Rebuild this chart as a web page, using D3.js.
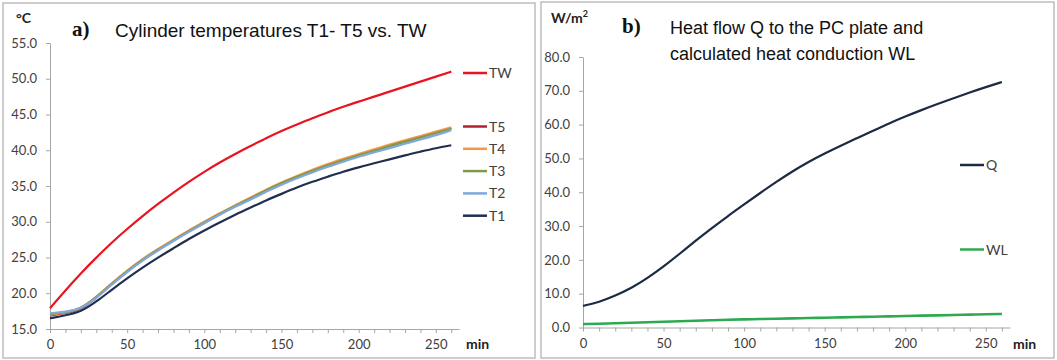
<!DOCTYPE html>
<html><head><meta charset="utf-8">
<script src="https://cdn.jsdelivr.net/npm/d3@7"></script>
<style>
html,body{margin:0;padding:0;background:#fff;}
svg{display:block;}
text{font-family:Lato,"Open Sans",sans-serif;}
</style></head>
<body><svg id="c" width="1057" height="360"></svg>
<script>
// ---- data ----
const minutes = [0,10,20,30,40,50,60,70,80,90,100,110,120,130,140,150,160,170,180,190,200,210,220,230,240,250,260];
const TW = [17.9,20.4,22.8,25.0,27.1,29.0,30.8,32.5,34.1,35.6,37.0,38.3,39.5,40.6,41.7,42.7,43.6,44.5,45.3,46.1,46.8,47.5,48.2,48.9,49.6,50.3,51.0];
const T5 = [16.9,17.2,17.7,19.4,21.3,23.1,24.7,26.1,27.4,28.7,29.9,31.1,32.2,33.3,34.4,35.4,36.3,37.1,37.9,38.6,39.3,39.9,40.6,41.2,41.8,42.5,43.1];
const T4 = [17.0,17.3,17.8,19.5,21.4,23.2,24.8,26.2,27.5,28.8,30.0,31.2,32.3,33.4,34.5,35.5,36.4,37.3,38.1,38.8,39.5,40.1,40.8,41.4,42.0,42.6,43.2];
const T3 = [17.1,17.3,17.8,19.4,21.3,23.1,24.7,26.1,27.4,28.7,29.9,31.1,32.2,33.3,34.4,35.4,36.3,37.1,37.9,38.6,39.3,39.9,40.6,41.2,41.8,42.4,43.0];
const T2 = [17.2,17.4,17.8,19.3,21.2,23.0,24.6,26.0,27.3,28.6,29.8,31.0,32.1,33.1,34.2,35.2,36.1,36.9,37.7,38.4,39.1,39.7,40.3,40.9,41.5,42.1,42.8];
const T1 = [16.5,16.9,17.4,18.8,20.5,22.1,23.6,25.0,26.3,27.6,28.8,29.9,31.0,32.0,33.0,33.9,34.8,35.6,36.3,37.0,37.6,38.2,38.7,39.3,39.8,40.3,40.7];
const Q  = [6.4,7.5,9.4,11.6,14.6,18.0,21.8,25.7,29.4,33.0,36.4,39.8,43.1,46.2,49.0,51.5,53.8,56.0,58.2,60.4,62.4,64.3,66.1,67.8,69.5,71.1,72.6];
const WL = [1.0,1.1,1.25,1.4,1.55,1.7,1.85,2.0,2.15,2.3,2.4,2.5,2.6,2.7,2.8,2.9,3.0,3.1,3.2,3.3,3.4,3.5,3.6,3.7,3.8,3.9,4.0];
const xTicks = [0,10,20,30,40,50,60,70,80,90,100,110,120,130,140,150,160,170,180,190,200,210,220,230,240,250,260];
const yTicksA = [15,20,25,30,35,40,45,50,55];
const yTicksB = [0,10,20,30,40,50,60,70,80];
const seriesA = [
  {name:"T5", values:T5, color:"#B2222B", w:2.2},
  {name:"T4", values:T4, color:"#F79646", w:2.2},
  {name:"T3", values:T3, color:"#7F9A48", w:2.2},
  {name:"T2", values:T2, color:"#7FA8DC", w:2.2},
  {name:"T1", values:T1, color:"#1F2F4F", w:2.2},
  {name:"TW", values:TW, color:"#E8141F", w:2.2}
];
const legendA = ["TW","T5","T4","T3","T2","T1"];
const seriesB = [
  {name:"Q", values:Q, color:"#1C2A44", w:2.2},
  {name:"WL", values:WL, color:"#2DAA4F", w:2.6}
];

const svg = d3.select("#c");
const axisCol = "#A6A6A6", txtCol = "#404040";

function panel(cfg){
  const g = svg.append("g");
  g.append("rect").attr("x",cfg.box[0]).attr("y",cfg.box[1]).attr("width",cfg.box[2]).attr("height",cfg.box[3])
    .attr("fill","#fff").attr("stroke","#BDBDBD").attr("stroke-width",1.5);
  const x = d3.scaleLinear().domain([0,265]).range(cfg.xr);
  const y = d3.scaleLinear().domain(cfg.yd).range(cfg.yr);
  const ya = g.append("g").attr("transform",`translate(${cfg.xr[0]},0)`)
    .call(d3.axisLeft(y).tickValues(cfg.yTicks).tickFormat(d3.format(".1f")).tickSize(4).tickSizeOuter(0).tickPadding(9));
  ya.select(".domain").attr("stroke",axisCol);
  ya.selectAll(".tick line").attr("stroke",axisCol);
  ya.selectAll(".tick text").attr("fill",txtCol).style("font-size","13px").style("font-family","Lato");
  const xa = g.append("g").attr("transform",`translate(0,${cfg.yr[0]})`)
    .call(d3.axisBottom(x).tickValues(xTicks).tickFormat(d=> d%50===0 ? d : "").tickSize(4).tickSizeOuter(0).tickPadding(7));
  xa.select(".domain").attr("stroke",axisCol);
  xa.selectAll(".tick line").attr("stroke",axisCol);
  xa.selectAll(".tick text").attr("fill",txtCol).style("font-size","13px").style("font-family","Lato");
  const line = d3.line().x((d,i)=>x(minutes[i])).y(d=>y(d)).curve(d3.curveBasis);
  cfg.series.forEach(s=>{
    g.append("path").attr("d",line(s.values)).attr("fill","none").attr("stroke",s.color).attr("stroke-width",s.w).attr("stroke-linejoin","round");
  });
  cfg.legend.forEach(l=>{
    const s = cfg.series.find(d=>d.name===l.name);
    g.append("line").attr("x1",l.x).attr("x2",l.x+24).attr("y1",l.y).attr("y2",l.y).attr("stroke",s.color).attr("stroke-width",2.5);
    g.append("text").attr("x",l.x+26).attr("y",l.y+5).attr("fill",txtCol).style("font-size","14px").text(l.name);
  });
  g.append("text").attr("x",cfg.unit[0]).attr("y",cfg.unit[1]).attr("fill","#222").style("font-size","14px").style("font-weight","bold").html(cfg.unitText);
  g.append("text").attr("x",cfg.minX).attr("y",349).attr("fill","#222").style("font-size","14px").style("font-weight","bold").text("min");
  return g;
}

const gA = panel({
  box:[3,3,532,355], xr:[50,459], yd:[15,55], yr:[329,43], yTicks:yTicksA, series:seriesA,
  legend: legendA.map((n,i)=>({name:n, x:463, y: i===0 ? 73 : 126.5 + (i-1)*22.3})),
  unit:[16,23], unitText:"°C", minX:466
});
gA.append("text").attr("x",72).attr("y",36).style("font-family","'Liberation Serif',serif").style("font-weight","bold").style("font-size","21px").attr("fill","#111").text("a)");
gA.append("text").attr("x",115).attr("y",37).style("font-family","'Liberation Sans',Arial,sans-serif").style("font-size","19px").attr("fill","#111").text("Cylinder temperatures T1- T5 vs. TW");

const gB = panel({
  box:[541,2,513,356], xr:[583,1010], yd:[0,80], yr:[327.5,57], yTicks:yTicksB, series:seriesB,
  legend:[{name:"Q", x:960, y:165},{name:"WL", x:960, y:249.5}],
  unit:[551,23], unitText:"W/m<tspan dy='-6' font-size='9px'>2</tspan>", minX:1013
});
gB.append("text").attr("x",622).attr("y",33).style("font-family","'Liberation Serif',serif").style("font-weight","bold").style("font-size","21px").attr("fill","#111").text("b)");
gB.append("text").attr("x",670).attr("y",34).style("font-family","'Liberation Sans',Arial,sans-serif").style("font-size","18px").attr("fill","#111").text("Heat flow Q to the PC plate and");
gB.append("text").attr("x",670).attr("y",60).style("font-family","'Liberation Sans',Arial,sans-serif").style("font-size","18px").attr("fill","#111").text("calculated heat conduction WL");
</script></body></html>
